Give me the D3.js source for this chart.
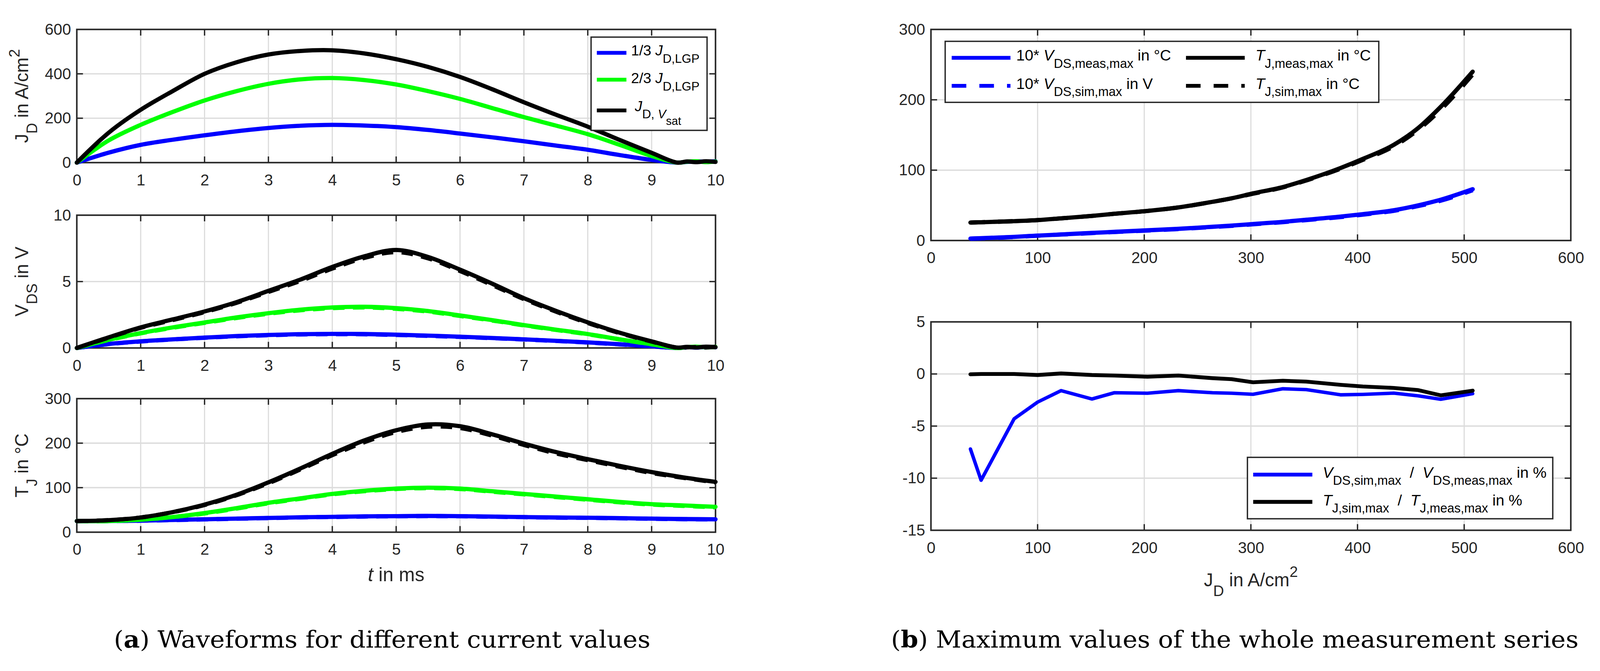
<!DOCTYPE html>
<html><head><meta charset="utf-8">
<script src="https://cdn.jsdelivr.net/npm/d3@7"></script>
<style>html,body{margin:0;padding:0;background:#fff;overflow:hidden;width:100%;height:100%} svg{display:block;width:100vw;height:100vh} text{white-space:pre}</style>
</head><body>
<svg id="fig" viewBox="0 0 4166 1719" preserveAspectRatio="xMidYMid meet" xmlns="http://www.w3.org/2000/svg"></svg>
<script>
// ---------------- DATA ----------------
// (a) waveforms: time grid in ms
const tGrid = [0,0.5,1,1.5,2,2.5,3,3.5,4,4.5,5,5.5,6,6.5,7,7.5,8,8.5,9,9.4,9.55,9.7,9.85,10];
const jdBlack = [0,135,238,322,400,452,487,503,506,492,466,431,386,331,272,216,162,102,44,0,5,2,6,3];
const jdGreen = [0,100,170,228,280,322,355,375,381,372,352,322,287,246,205,167,128,80,30,0,4,6,2,5];
const jdBlue  = [0,45,80,103,123,141,156,166,170,167,160,147,131,114,96,77,58,34,12,0,3,5,4,6];

const vdsBlackMeas = [0,0.8,1.55,2.15,2.75,3.45,4.3,5.15,6.1,6.9,7.38,6.85,5.9,4.85,3.75,2.8,1.93,1.15,0.5,0.03,0.08,0.04,0.1,0.06];
const vdsBlackSim  = [0,0.78,1.52,2.1,2.7,3.4,4.22,5.05,5.98,6.78,7.22,6.75,5.8,4.75,3.68,2.74,1.88,1.12,0.48,0.02,0.05,0.07,0.04,0.08];
const vdsGreenMeas = [0,0.62,1.12,1.55,1.92,2.3,2.62,2.88,3.05,3.1,3.0,2.78,2.45,2.1,1.72,1.38,1.05,0.65,0.28,0,0.06,0.1,0.05,0.08];
const vdsGreenSim  = [0,0.6,1.1,1.52,1.89,2.26,2.58,2.84,3.0,3.05,2.95,2.74,2.41,2.07,1.7,1.36,1.03,0.64,0.27,0,0.05,0.08,0.06,0.07];
const vdsBlueMeas  = [0,0.3,0.5,0.65,0.78,0.9,0.98,1.04,1.06,1.05,1.0,0.93,0.85,0.75,0.65,0.54,0.42,0.28,0.13,0,0.06,0.03,0.08,0.05];
const vdsBlueSim   = [0,0.29,0.49,0.64,0.77,0.88,0.96,1.02,1.04,1.03,0.98,0.91,0.83,0.74,0.64,0.53,0.41,0.27,0.12,0,0.04,0.07,0.05,0.06];

const tGridT = [0,0.5,1,1.5,2,2.5,3,3.5,4,4.5,5,5.5,6,6.5,7,7.5,8,8.5,9,9.5,10];
const tjBlackMeas = [25,27,33,45,62,84,112,143,176,206,229,242,238,220,199,180,164,149,135,123,113];
const tjBlackSim  = [25,27,33,45,61,83,110,141,173,202,225,237,234,217,196,177,162,147,133,122,112];
const tjGreenMeas = [25,25,28,34,43,54,66,76,86,93,98,100,98,92,86,80,74,68,63,60,57];
const tjGreenSim  = [25,25,28,34,42,53,65,75,85,92,97,99,97,91,85,79,73,67,62,59,56];
const tjBlueMeas  = [25,25,26,27.5,29,30.5,32,33.5,34.5,35.5,36,36.5,36,35,34,33,32.5,31.5,30.5,29.5,29];
const tjBlueSim   = [25,25,25.8,27.2,28.7,30.2,31.7,33.2,34.2,35.2,35.7,36.2,35.7,34.7,33.7,32.7,32.2,31.2,30.2,29.2,28.7];

// (b) maximum values vs J_D
const jdPts = [37,47,78,100,122,151,172,203,232,264,282,302,330,352,384,405,434,457,478,508];
const tjMaxMeas = [25.5,26,27.5,29,31.5,35,38,42,47,55,60,67,76,86,103,116,136,160,190,240];
const tjMaxSim  = [25.5,26,27.5,29,31.5,35,38,42,47,55,60,66.5,75.5,85.4,102,114.6,134,157.5,186,236];
const vds10Meas = [2.8,3.3,5.2,7,8.6,10.8,12.3,14.5,16.6,19.5,21.2,23.5,26.5,29.5,34,37.5,43,50,58,73];
const vds10Sim  = [2.6,3.0,5.0,6.8,8.45,10.55,12.1,14.2,16.3,19.15,20.8,23.0,26.1,29.05,33.3,36.8,42.2,49.0,56.6,71.6];
const vdsPct = [-7.2,-10.2,-4.3,-2.7,-1.6,-2.4,-1.8,-1.85,-1.6,-1.8,-1.85,-1.95,-1.42,-1.5,-2.0,-1.96,-1.84,-2.1,-2.43,-1.89];
const tjPct  = [-0.03,0,0,-0.1,0.05,-0.1,-0.15,-0.26,-0.15,-0.4,-0.5,-0.8,-0.65,-0.73,-1.04,-1.2,-1.34,-1.55,-2.05,-1.6];

// ticks
const tTicks = [0,1,2,3,4,5,6,7,8,9,10];
const jdTicksY = [0,200,400,600];
const vdsTicksY = [0,5,10];
const tjTicksY = [0,100,200,300];
const jdTicksX = [0,100,200,300,400,500,600];
const maxTicksY = [0,100,200,300];
const pctTicksY = [-15,-10,-5,0,5];

// ---------------- DRAW ----------------
const svg = d3.select('#fig');
const FONT = '"Liberation Sans", Arial, Helvetica, sans-serif';
const AX = '#262626', GRID = '#dcdcdc';
const BLUE = '#0000ff', GREEN = '#00ff00', BLACK = '#000000';

function panel(c){
  const g = svg.append('g');
  const x = d3.scaleLinear().domain(c.xd).range([c.x0, c.x1]);
  const y = d3.scaleLinear().domain(c.yd).range([c.y1, c.y0]);
  const inX = c.xt.filter(v => v > c.xd[0] && v < c.xd[1]);
  const inY = c.yt.filter(v => v > c.yd[0] && v < c.yd[1]);
  g.selectAll(null).data(inX).join('line')
    .attr('x1', d=>x(d)).attr('x2', d=>x(d)).attr('y1', c.y0).attr('y2', c.y1)
    .attr('stroke', GRID).attr('stroke-width', 3);
  g.selectAll(null).data(inY).join('line')
    .attr('y1', d=>y(d)).attr('y2', d=>y(d)).attr('x1', c.x0).attr('x2', c.x1)
    .attr('stroke', GRID).attr('stroke-width', 3.5);
  const TL = 16;
  inX.forEach(v => {
    g.append('line').attr('x1',x(v)).attr('x2',x(v)).attr('y1',c.y1).attr('y2',c.y1-TL).attr('stroke',AX).attr('stroke-width',3.5);
    g.append('line').attr('x1',x(v)).attr('x2',x(v)).attr('y1',c.y0).attr('y2',c.y0+TL).attr('stroke',AX).attr('stroke-width',3.5);
  });
  inY.forEach(v => {
    g.append('line').attr('y1',y(v)).attr('y2',y(v)).attr('x1',c.x0).attr('x2',c.x0+TL).attr('stroke',AX).attr('stroke-width',3.5);
    g.append('line').attr('y1',y(v)).attr('y2',y(v)).attr('x1',c.x1).attr('x2',c.x1-TL).attr('stroke',AX).attr('stroke-width',3.5);
  });
  g.append('rect').attr('x',c.x0).attr('y',c.y0).attr('width',c.x1-c.x0).attr('height',c.y1-c.y0)
    .attr('fill','none').attr('stroke',AX).attr('stroke-width',4);
  const ax = g.append('g').attr('transform',`translate(0,${c.y1})`)
    .call(d3.axisBottom(x).tickValues(c.xt).tickSize(0).tickPadding(30).tickFormat(d=>String(d)));
  ax.select('.domain').remove();
  ax.selectAll('text').attr('font-size',41).attr('font-family',FONT).attr('fill',AX);
  const ay = g.append('g').attr('transform',`translate(${c.x0},0)`)
    .call(d3.axisLeft(y).tickValues(c.yt).tickSize(0).tickPadding(15).tickFormat(d=>String(d)));
  ay.select('.domain').remove();
  ay.selectAll('text').attr('font-size',41).attr('font-family',FONT).attr('fill',AX);
  return {g, x, y};
}

function drawLine(p, xs, ys, color, w, dash, curve){
  const line = d3.line().x((d,i)=>p.x(xs[i])).y(d=>p.y(d)).curve(curve || d3.curveCatmullRom.alpha(0.5));
  p.g.append('path').attr('d', line(ys)).attr('fill','none').attr('stroke',color)
    .attr('stroke-width',w).attr('stroke-linejoin','round').attr('stroke-linecap', dash ? 'butt' : 'round')
    .attr('stroke-dasharray', dash || null);
}

function rich(parent, x, y, parts, o){
  const t = parent.append('text').attr('x',x).attr('y',y).attr('font-family',FONT)
    .attr('font-size',o.size).attr('fill',o.color || '#000');
  if (o.anchor) t.attr('text-anchor', o.anchor);
  let cur = 0;
  parts.forEach(p => {
    const lv = p.lv || 0;
    const off = lv===1 ? o.sub : lv===2 ? o.sub*1.9 : lv===-1 ? -o.sup : 0;
    const fs = lv===0 ? o.size : lv===2 ? o.ss*0.92 : o.ss;
    t.append('tspan').attr('dy', off-cur).attr('font-size', fs)
      .attr('font-style', p.it ? 'italic' : 'normal').text(p.t);
    cur = off;
  });
  return t;
}

// ---- (a) panels ----
const L = {x0:200, x1:1863};
const p1 = panel({...L, y0:62, y1:409, xd:[0,10], yd:[0,600], xt:tTicks, yt:jdTicksY});
const p2 = panel({...L, y0:546, y1:892, xd:[0,10], yd:[0,10], xt:tTicks, yt:vdsTicksY});
const p3 = panel({...L, y0:1024, y1:1372, xd:[0,10], yd:[0,300], xt:tTicks, yt:tjTicksY});

const W = 11, DASH = '30,22';
drawLine(p1, tGrid, jdBlue, BLUE, W);
drawLine(p1, tGrid, jdGreen, GREEN, W);
drawLine(p1, tGrid, jdBlack, BLACK, W);

drawLine(p2, tGrid, vdsBlueMeas, BLUE, W);
drawLine(p2, tGrid, vdsBlueSim, BLUE, W, DASH);
drawLine(p2, tGrid, vdsGreenMeas, GREEN, W);
drawLine(p2, tGrid, vdsGreenSim, GREEN, W, DASH);
drawLine(p2, tGrid, vdsBlackMeas, BLACK, W);
drawLine(p2, tGrid, vdsBlackSim, BLACK, W, DASH);

drawLine(p3, tGridT, tjBlueMeas, BLUE, W);
drawLine(p3, tGridT, tjBlueSim, BLUE, W, DASH);
drawLine(p3, tGridT, tjGreenMeas, GREEN, W);
drawLine(p3, tGridT, tjGreenSim, GREEN, W, DASH);
drawLine(p3, tGridT, tjBlackMeas, BLACK, W);
drawLine(p3, tGridT, tjBlackSim, BLACK, W, DASH);

// y labels (a)
const ylab = {size:48, ss:39, sub:24, sup:22, color:AX, anchor:'middle'};
rich(svg, 0, 0, [{t:'J'},{t:'D',lv:1},{t:' in A/cm'},{t:'2',lv:-1}], ylab)
  .attr('transform', `translate(73,${(62+409)/2}) rotate(-90)`);
rich(svg, 0, 0, [{t:'V'},{t:'DS',lv:1},{t:' in V'}], ylab)
  .attr('transform', `translate(73,${(546+892)/2}) rotate(-90)`);
rich(svg, 0, 0, [{t:'T'},{t:'J',lv:1},{t:' in °C'}], ylab)
  .attr('transform', `translate(73,${(1024+1372)/2}) rotate(-90)`);
// x label (a)
rich(svg, (200+1863)/2, 1500, [{t:'t',it:true},{t:' in ms'}], {size:50, ss:40, sub:24, sup:22, color:AX, anchor:'middle'});

// legend (a)
const lg1 = svg.append('g');
lg1.append('rect').attr('x',1539).attr('y',82).attr('width',302).attr('height',243)
  .attr('fill','#fff').attr('stroke',AX).attr('stroke-width',3.5);
[[123,BLUE],[193,GREEN],[273,BLACK]].forEach(([yy,c]) => {
  lg1.append('line').attr('x1',1554).attr('x2',1631).attr('y1',yy).attr('y2',yy).attr('stroke',c).attr('stroke-width',10);
});
const lgA = {size:38, ss:32, sub:19, sup:18};
rich(lg1, 1643, 130, [{t:'1/3 '},{t:'J',it:true},{t:'D,LGP',lv:1}], lgA);
rich(lg1, 1643, 202, [{t:'2/3 '},{t:'J',it:true},{t:'D,LGP',lv:1}], lgA);
rich(lg1, 1653, 275, [{t:'J',it:true},{t:'D, ',lv:1},{t:'V',lv:1,it:true},{t:'sat',lv:2}], lgA);

// ---- (b) panels ----
const R = {x0:2424, x1:4090};
const q1 = panel({...R, y0:62, y1:612, xd:[0,600], yd:[0,300], xt:jdTicksX, yt:maxTicksY});
const q2 = panel({...R, y0:824, y1:1367, xd:[0,600], yd:[-15,5], xt:jdTicksX, yt:pctTicksY});

const mono = d3.curveMonotoneX;
drawLine(q1, jdPts, vds10Meas, BLUE, 11, null, mono);
drawLine(q1, jdPts, vds10Sim, BLUE, 11, '38,34', mono);
drawLine(q1, jdPts, tjMaxMeas, BLACK, 11, null, mono);
drawLine(q1, jdPts, tjMaxSim, BLACK, 11, '38,34', mono);

drawLine(q2, jdPts, vdsPct, BLUE, 9, null, d3.curveLinear);
drawLine(q2, jdPts, tjPct, BLACK, 10, null, d3.curveLinear);

// x label (b)
rich(svg, (2424+4090)/2, 1513, [{t:'J'},{t:'D',lv:1},{t:' in A/cm'},{t:'2',lv:-1}], {size:48, ss:39, sub:25, sup:24, color:AX, anchor:'middle'});

// legend (b) top
const lgB = {size:40, ss:33, sub:19, sup:18};
const lg2 = svg.append('g');
lg2.append('rect').attr('x',2461).attr('y',93).attr('width',1129).attr('height',159)
  .attr('fill','#fff').attr('stroke',AX).attr('stroke-width',3.5);
[[2478,2631,136,BLUE,null],[2478,2631,209,BLUE,'38,34'],[3088,3241,136,BLACK,null],[3088,3241,209,BLACK,'38,34']]
  .forEach(([a,b,yy,c,d]) => {
    lg2.append('line').attr('x1',a).attr('x2',b).attr('y1',yy).attr('y2',yy).attr('stroke',c)
      .attr('stroke-width',10).attr('stroke-dasharray',d);
  });
rich(lg2, 2646, 143, [{t:'10* '},{t:'V',it:true},{t:'DS,meas,max',lv:1},{t:' in °C'}], lgB);
rich(lg2, 2646, 217, [{t:'10* '},{t:'V',it:true},{t:'DS,sim,max',lv:1},{t:' in V'}], lgB);
rich(lg2, 3269, 143, [{t:'T',it:true},{t:'J,meas,max',lv:1},{t:' in °C'}], lgB);
rich(lg2, 3269, 217, [{t:'T',it:true},{t:'J,sim,max',lv:1},{t:' in °C'}], lgB);

// legend (b) bottom
const lg3 = svg.append('g');
lg3.append('rect').attr('x',3248).attr('y',1177).attr('width',795).attr('height',160)
  .attr('fill','#fff').attr('stroke',AX).attr('stroke-width',3.5);
[[1222,BLUE],[1293,BLACK]].forEach(([yy,c]) => {
  lg3.append('line').attr('x1',3263).attr('x2',3417).attr('y1',yy).attr('y2',yy).attr('stroke',c).attr('stroke-width',10);
});
rich(lg3, 3444, 1230, [{t:'V',it:true},{t:'DS,sim,max',lv:1},{t:'  /  '},{t:'V',it:true},{t:'DS,meas,max',lv:1},{t:' in %'}], lgB);
rich(lg3, 3444, 1302, [{t:'T',it:true},{t:'J,sim,max',lv:1},{t:'  /  '},{t:'T',it:true},{t:'J,meas,max',lv:1},{t:' in %'}], lgB);

// ---- captions ----
const SERIF = '"DejaVu Serif", "Liberation Serif", serif';
function caption(cx, w, letter, rest){
  const t = svg.append('text').attr('x',cx).attr('y',1673).attr('text-anchor','middle')
    .attr('font-family',SERIF).attr('font-size',60).attr('fill','#000')
    .attr('textLength', w).attr('lengthAdjust','spacingAndGlyphs');
  t.append('tspan').text('(');
  t.append('tspan').attr('font-weight','bold').text(letter);
  t.append('tspan').text(') ' + rest);
}
caption(995, 1397, 'a', 'Waveforms for different current values');
caption(3215, 1790, 'b', 'Maximum values of the whole measurement series');
</script>
</body></html>
